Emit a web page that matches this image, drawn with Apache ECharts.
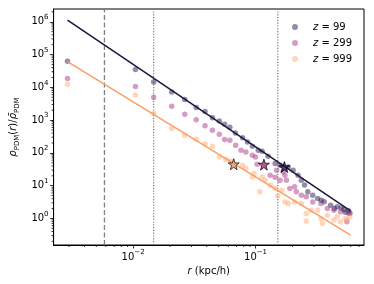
<!DOCTYPE html>
<html><head><meta charset="utf-8">
<script src="https://cdn.jsdelivr.net/npm/echarts@6/dist/echarts.min.js"></script>
<style>html,body{margin:0;padding:0;background:#fff}#c{width:374px;height:284px}</style>
</head><body><div id="c"></div>
<script>
// ---- data ----
const seriesNames = ['z = 99', 'z = 299', 'z = 999'];

const z99R = [0.00291, 0.01045, 0.01472, 0.02065, 0.02641, 0.03276, 0.03866, 0.04446, 0.05058, 0.05585, 0.06165, 0.06842, 0.07834, 0.0859, 0.0942, 0.1052, 0.1133, 0.1265, 0.1445, 0.1585, 0.185, 0.2028, 0.2224, 0.2364, 0.2513, 0.2673, 0.2931, 0.3214, 0.3631, 0.4108, 0.4646, 0.5248, 0.5754, 0.344, 0.50, 0.54, 0.59, 0.44];
const z99V = [62500, 34900, 14600, 7240, 4250, 2420, 1830, 1183, 939, 750, 607, 407, 291, 216, 160, 121, 113, 79, 47.5, 42, 37.4, 29.7, 20.9, 14.7, 10.4, 6.47, 5.13, 4.07, 3.21, 2.54, 2.26, 1.88, 1.71, 3.6, 2.1, 1.55, 1.45, 2.0];

const z299R = [0.00291, 0.01045, 0.01472, 0.02065, 0.02641, 0.03276, 0.03866, 0.04446, 0.05058, 0.05585, 0.06165, 0.0688, 0.0761, 0.0834, 0.0942, 0.100, 0.103, 0.1318, 0.1445, 0.1486, 0.1585, 0.1687, 0.1738, 0.1789, 0.1905, 0.2084, 0.2153, 0.2364, 0.2594, 0.2931, 0.342, 0.3864, 0.4365, 0.4932, 0.5572, 0.5754];
const z299V = [18500, 10600, 4990, 2650, 1510, 1030, 675, 492, 372, 256, 244, 172, 121, 107, 85, 75.5, 45, 20.9, 18, 29.7, 14.7, 26.4, 20.9, 14.7, 8.2, 9.2, 6.5, 5.1, 4.56, 3.2, 2.87, 2.02, 1.79, 1.59, 0.79, 1.42];

const z999R = [0.00291, 0.01045, 0.01472, 0.02065, 0.02641, 0.03276, 0.03866, 0.04446, 0.05093, 0.05696, 0.06209, 0.07834, 0.0834, 0.0942, 0.0972, 0.1084, 0.1133, 0.1202, 0.1318, 0.1445, 0.152, 0.164, 0.1738, 0.185, 0.2084, 0.2364, 0.2594, 0.2594, 0.2844, 0.3214, 0.342, 0.3524, 0.3864, 0.4365, 0.4646, 0.4932, 0.5395, 0.5572, 0.59];
const z999V = [12400, 5870, 1590, 555, 347, 262, 191, 160, 75.5, 64.3, 57, 42.2, 33.4, 18.5, 23.5, 6.5, 18.5, 14.7, 10.4, 8.2, 4.8, 7.3, 3.2, 2.87, 3.2, 2.87, 1.42, 0.83, 1.79, 1.79, 1.0, 0.70, 1.26, 0.89, 1.12, 0.79, 1.0, 0.89, 1.1];

// power-law fits (end points)
const fitR = [0.00291, 0.597];
const fit99V = [1.12e6, 1.71];
const fit999V = [61200, 0.31];

// stars (z=999, z=299, z=99)
const starR = [0.0663, 0.117, 0.172];
const starV = [45, 44, 37];

// vertical reference lines
const dashedR = [0.00583];
const dottedR = [0.0147, 0.152];

// axis ranges and tick values
const X_MIN = 0.00224, X_MAX = 0.769;
const Y_MIN = 0.155, Y_MAX = 2.45e6;
const xMajor = [0.01, 0.1];
const yMajor = [1, 10, 100, 1e3, 1e4, 1e5, 1e6];

// ---- build ----
const FONT = 'DejaVu Sans';
const pair = (r, v) => r.map((x, i) => [x, v[i]]);
function minorList(kFrom, kTo, lo, hi) {
  const out = [];
  for (let k = kFrom; k <= kTo; k++) for (let m = 2; m <= 9; m++) {
    const v = m * Math.pow(10, k);
    if (v > lo && v < hi) out.push(v);
  }
  return out;
}
const xMinor = minorList(-3, -1, X_MIN, X_MAX);
const yMinor = minorList(-1, 6, Y_MIN, Y_MAX);

function powLabel(v) {
  const e = Math.round(Math.log10(v));
  return '{b|10}{s|' + (e < 0 ? '\u2212' + (-e) : e) + '}';
}
const tickRich = {
  b: { fontSize: 10, fontFamily: FONT, color: '#000', lineHeight: 16 },
  s: { fontSize: 7, fontFamily: FONT, color: '#000', verticalAlign: 'top' }
};

const cols = ['rgba(29,17,71,0.6)', 'rgba(168,50,130,0.6)', 'rgba(254,167,114,0.6)'];
const starCols = ['#fb9b5c', '#a3307e', '#1f1446'];
const STAR = 'path://M50,2 L61.5,36 L97,36 L68.5,57.5 L79,92 L50,71 L21,92 L31.5,57.5 L3,36 L38.5,36 Z';

function vline(x, type) {
  return {
    type: 'line', silent: true, symbol: 'none', z: 1,
    data: [[x, Y_MIN], [x, Y_MAX]],
    lineStyle: { color: '#808080', width: 1.3, type: type }
  };
}
function minorTicks(list, axis) {
  return {
    type: 'custom', silent: true, clip: false, z: 10,
    data: list.map(v => axis === 'x' ? [v, Y_MIN] : [X_MIN, v]),
    renderItem: (params, api) => {
      const p = api.coord([api.value(0), api.value(1)]);
      const shape = axis === 'x'
        ? { x1: p[0], y1: p[1], x2: p[0], y2: p[1] + 2 }
        : { x1: p[0], y1: p[1], x2: p[0] - 2, y2: p[1] };
      return { type: 'line', shape: shape, style: { stroke: '#000', lineWidth: 0.8 } };
    }
  };
}

const series = [];
dashedR.forEach(x => series.push(vline(x, [5, 2.5])));
dottedR.forEach(x => series.push(vline(x, [1.2, 1.6])));
[[z99R, z99V], [z299R, z299V], [z999R, z999V]].forEach((d, i) => {
  series.push({
    name: seriesNames[i], type: 'scatter', symbol: 'circle', symbolSize: 5.5, z: 2,
    data: pair(d[0], d[1]),
    itemStyle: { color: cols[i], borderWidth: 0 }
  });
});
series.push({ type: 'line', symbol: 'none', silent: true, z: 3, data: pair(fitR, fit99V),
  lineStyle: { color: '#1c1340', width: 1.5 } });
series.push({ type: 'line', symbol: 'none', silent: true, z: 3, data: pair(fitR, fit999V),
  lineStyle: { color: '#fc9e63', width: 1.5 } });
starR.forEach((r, i) => {
  series.push({ type: 'scatter', symbol: STAR, symbolSize: 11, z: 4, silent: true,
    data: [[r, starV[i]]],
    itemStyle: { color: starCols[i], borderColor: '#000', borderWidth: 0.9 } });
});
series.push(minorTicks(xMinor, 'x'));
series.push(minorTicks(yMinor, 'y'));

const option = {
  animation: false,
  backgroundColor: '#fff',
  grid: { left: 47, right: 10, top: 9, bottom: 39, show: true, borderColor: '#000', borderWidth: 1, backgroundColor: 'transparent' },
  legend: {
    data: seriesNames, orient: 'vertical', left: 287, top: 16,
    icon: 'circle', itemWidth: 26, itemHeight: 6, itemGap: 4,
    formatter: n => '{i|z} = ' + n.split('= ')[1],
    textStyle: { fontFamily: FONT, fontSize: 10, color: '#000', lineHeight: 12,
      rich: { i: { fontFamily: FONT, fontSize: 10, fontStyle: 'italic', color: '#000' } } }
  },
  xAxis: {
    type: 'log', logBase: 10, min: X_MIN, max: X_MAX,
    name: '{i|r} (kpc/h)', nameLocation: 'middle', nameGap: 20,
    nameTextStyle: { fontFamily: FONT, fontSize: 10, color: '#000',
      rich: { i: { fontFamily: FONT, fontSize: 10, fontStyle: 'italic', color: '#000' } } },
    axisLine: { show: true, lineStyle: { color: '#000', width: 1 } },
    axisTick: { show: true, length: 3.5, lineStyle: { color: '#000', width: 0.8 }, customValues: xMajor },
    axisLabel: { customValues: xMajor, formatter: powLabel, rich: tickRich, margin: 4 },
    splitLine: { show: false }
  },
  yAxis: {
    type: 'log', logBase: 10, min: Y_MIN, max: Y_MAX,
    name: '{i|ρ}{sub|PDM}{n|(}{i|r}{n|)/}{i|ρ̄}{sub|PDM}', nameLocation: 'middle', nameGap: 30, nameRotate: 90,
    nameTextStyle: { fontFamily: FONT, fontSize: 10, color: '#000',
      rich: {
        i: { fontFamily: FONT, fontSize: 10, fontStyle: 'italic', color: '#000', lineHeight: 15 },
        n: { fontFamily: FONT, fontSize: 10, color: '#000', lineHeight: 15 },
        sub: { fontFamily: FONT, fontSize: 7, color: '#000', verticalAlign: 'bottom' }
      } },
    axisLine: { show: true, lineStyle: { color: '#000', width: 1 } },
    axisTick: { show: true, length: 3.5, lineStyle: { color: '#000', width: 0.8 }, customValues: yMajor },
    axisLabel: { customValues: yMajor, formatter: powLabel, rich: tickRich, margin: 5 },
    splitLine: { show: false }
  },
  series: series
};
const chart = echarts.init(document.getElementById('c'), null, { renderer: 'canvas' });
chart.setOption(option);
</script>
</body></html>
